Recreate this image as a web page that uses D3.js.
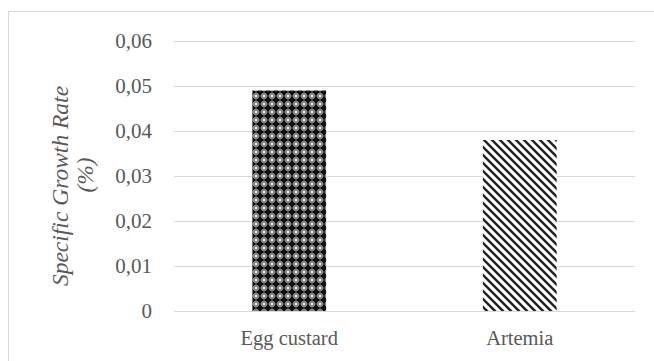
<!DOCTYPE html>
<html><head><meta charset="utf-8">
<script src="https://cdn.jsdelivr.net/npm/d3@7"></script>
<style>body{margin:0;background:#fff}svg{display:block}
text{font-family:"Liberation Serif","Times New Roman","DejaVu Serif",serif;}</style>
</head><body>
<svg id="c" width="654" height="361"></svg>
<script>
const categories = ["Egg custard", "Artemia"];
const values = [0.049, 0.038];
const tickValues = [0, 0.01, 0.02, 0.03, 0.04, 0.05, 0.06];
const tickLabels = ["0", "0,01", "0,02", "0,03", "0,04", "0,05", "0,06"];
const yTitle = ["Specific Growth Rate", "(%)"];

const svg = d3.select("#c");
const textColor = "#595959";

svg.append("rect").attr("x", 8.5).attr("y", 11.5).attr("width", 700).attr("height", 400)
  .attr("fill", "none").attr("stroke", "#d9d9d9").attr("stroke-width", 1);

const defs = svg.append("defs");
const p1 = defs.append("pattern").attr("id", "p1").attr("patternUnits", "userSpaceOnUse")
  .attr("width", 8).attr("height", 8);
p1.append("rect").attr("width", 8).attr("height", 8).attr("fill", "#858585");
p1.append("rect").attr("x", 3).attr("y", 0.5).attr("width", 2).attr("height", 7).attr("fill", "#000");
p1.append("rect").attr("x", 0.5).attr("y", 3).attr("width", 7).attr("height", 2).attr("fill", "#000");
p1.append("rect").attr("x", 2).attr("y", 2).attr("width", 4).attr("height", 4).attr("fill", "#111");
[[-1,-1],[7,7],[7,-1],[-1,7]].forEach(([a,b]) =>
  p1.append("rect").attr("x", a).attr("y", b).attr("width", 2).attr("height", 2).attr("fill", "#eee"));
const p2 = defs.append("pattern").attr("id", "p2").attr("patternUnits", "userSpaceOnUse")
  .attr("width", 8).attr("height", 8);
p2.append("rect").attr("width", 8).attr("height", 8).attr("fill", "#fff");
p2.append("path").attr("d", "M-2,-2 L10,10 M-2,6 L2,10 M6,-2 L10,2")
  .attr("stroke", "#222").attr("stroke-width", 2.4);
const fills = ["url(#p1)", "url(#p2)"];

const x0 = 174, x1 = 635, yTop = 41, yBot = 311;
const y = d3.scaleLinear().domain([0, 0.06]).range([yBot, yTop]);
const x = d3.scaleBand().domain(categories).range([x0, x1]).paddingInner(0.68).paddingOuter(0.34);

svg.append("g").selectAll("line").data(tickValues).join("line")
  .attr("x1", x0).attr("x2", x1)
  .attr("y1", d => Math.round(y(d)) + 0.5).attr("y2", d => Math.round(y(d)) + 0.5)
  .attr("stroke", "#d9d9d9").attr("stroke-width", 1);

const yAxis = d3.axisLeft(y).tickValues(tickValues).tickFormat((d, i) => tickLabels[i]).tickSize(0).tickPadding(0);
const gy = svg.append("g").attr("transform", `translate(152,0)`).call(yAxis);
gy.select(".domain").remove();
gy.attr("font-family", null);
gy.selectAll("text").attr("font-size", 21).attr("fill", textColor);

svg.append("g").selectAll("rect").data(values).join("rect")
  .attr("x", (d, i) => x(categories[i])).attr("width", x.bandwidth())
  .attr("y", d => y(d)).attr("height", d => yBot - y(d))
  .attr("fill", (d, i) => fills[i]);

const xAxis = d3.axisBottom(x).tickSize(0).tickPadding(0);
const gx = svg.append("g").attr("transform", `translate(0,${yBot + 16})`).call(xAxis);
gx.select(".domain").remove();
gx.attr("font-family", null);
gx.selectAll("text").attr("font-size", 20.5).attr("fill", textColor).attr("dy", "0.9em");

svg.append("text").attr("transform", "translate(68,186) rotate(-90)")
  .attr("text-anchor", "middle").attr("font-style", "italic")
  .attr("font-size", 23.5).attr("fill", textColor).text(yTitle[0]);
svg.append("text").attr("transform", "translate(93,175) rotate(-90)")
  .attr("text-anchor", "middle").attr("font-style", "italic")
  .attr("font-size", 23.5).attr("fill", textColor).text(yTitle[1]);
</script>
</body></html>
